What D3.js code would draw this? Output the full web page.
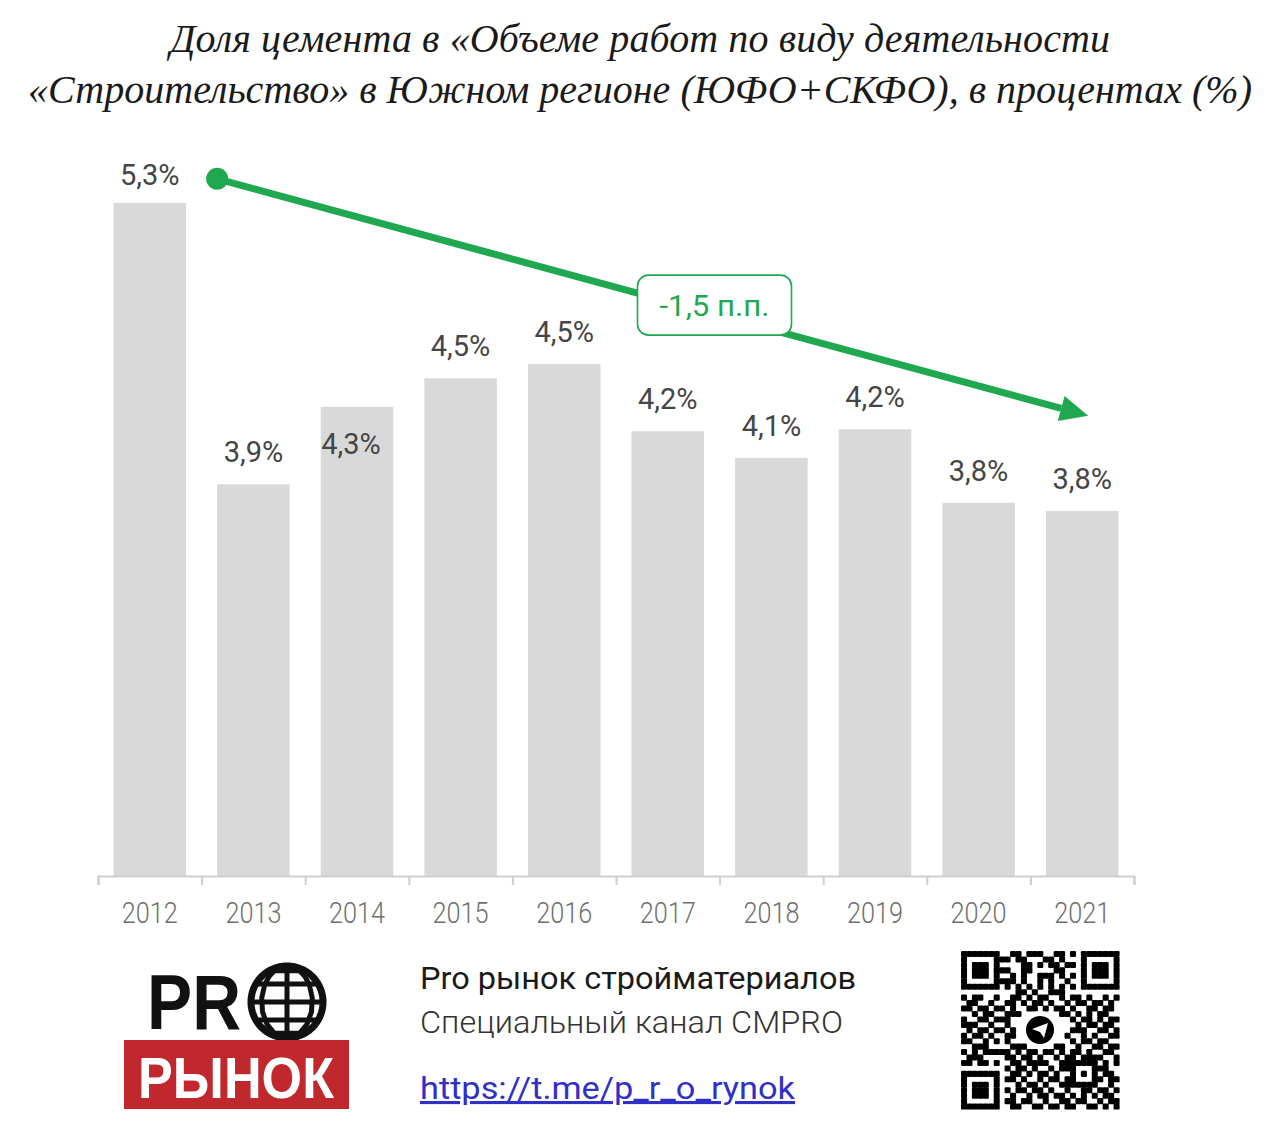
<!DOCTYPE html>
<html>
<head>
<meta charset="utf-8">
<script src="https://cdn.jsdelivr.net/npm/d3@7/dist/d3.min.js"></script>
<style>
  html, body { margin: 0; padding: 0; background: #fff; }
  svg { display: block; }
</style>
</head>
<body>
<svg id="chart" width="1280" height="1138"></svg>
<script>
// ---------- data ----------
const years = ["2012","2013","2014","2015","2016","2017","2018","2019","2020","2021"];
const shares = [5.30, 3.92, 4.30, 4.44, 4.51, 4.18, 4.05, 4.19, 3.83, 3.79];
const shareLabels = ["5,3%","3,9%","4,3%","4,5%","4,5%","4,2%","4,1%","4,2%","3,8%","3,8%"];
const titleLines = [
  "Доля цемента в «Объеме работ по виду деятельности",
  "«Строительство» в Южном регионе (ЮФО+СКФО),  в процентах (%)"
];
const changeLabel = "-1,5 п.п.";
const footerLines = ["Pro рынок стройматериалов", "Специальный канал CMPRO"];
const footerLink = "https://t.me/p_r_o_rynok";
const qrRows = [
  "11111110011011100110101111111",
  "10000011101100011010001000001",
  "10111010000110101101101011101",
  "10111011100110000110001011101",
  "10111010010100111010101011101",
  "10000011110100101001001000001",
  "11111110101010101010101111111",
  "00000000001101001110000000000",
  "10110010011010110010110100101",
  "01100100110101101001011011010",
  "11011011010011010110100110110",
  "00101100111000000011010101100",
  "10011011100000000000101101011",
  "11100100100000000000010110110",
  "01011011010000000000111001101",
  "10110100110000000001001010011",
  "11001010100000000000101101100",
  "00111000011100000110010011011",
  "10101111101011011010110100110",
  "01110000110110100101101111001",
  "11011010011011110011111110101",
  "00000000101101001011100011100",
  "11111110011010110100101010110",
  "10000010110100101101100011011",
  "10111010001011010011111110010",
  "10111010101101101001001101101",
  "10111010010010110110101010110",
  "10000010110110010011011001011",
  "11111110011001101101100110101"
];

// ---------- layout ----------
const GREEN = "#1fa84f";
const svg = d3.select("#chart");

const x = d3.scaleBand().domain(years).range([98, 1134]).paddingInner(0.3).paddingOuter(0.15);
const y = d3.scaleLinear().domain([2, 5.5]).range([876, 162]);
const data = years.map((yr, i) => ({ yr, v: shares[i], lab: shareLabels[i] }));

// title
const titleWidths = [940, 1224];
svg.append("g").selectAll("text").data(titleLines).join("text")
  .attr("x", 640).attr("y", (d, i) => 52 + i * 51)
  .attr("text-anchor", "middle")
  .attr("font-family", "'Liberation Serif', serif")
  .attr("font-style", "italic")
  .attr("font-size", 40)
  .attr("fill", "#1a1a1a")
  .text(d => d)
  .each(function (d, i) {
    const natural = this.getComputedTextLength();
    d3.select(this).attr("textLength", titleWidths[i])
      .attr("lengthAdjust", natural > titleWidths[i] ? "spacingAndGlyphs" : "spacing");
  });

// bars
svg.append("g").selectAll("rect").data(data).join("rect")
  .attr("x", d => x(d.yr)).attr("width", x.bandwidth())
  .attr("y", d => y(d.v)).attr("height", d => y(2) - y(d.v))
  .attr("fill", "#d9d9d9");

// x axis: baseline + boundary ticks
const xb = d3.scaleLinear().domain([0, years.length]).range(x.range());
const axisG = svg.append("g").attr("transform", `translate(0,${y(2)})`)
  .call(d3.axisBottom(xb).ticks(years.length).tickSize(9).tickFormat(""));
axisG.select(".domain").attr("stroke", "#cfcfcf").attr("stroke-width", 2);
axisG.selectAll(".tick line").attr("stroke", "#cfcfcf").attr("stroke-width", 2);

const labG = svg.append("g").attr("transform", `translate(0,${y(2)})`)
  .call(d3.axisBottom(x).tickSize(0).tickPadding(0));
labG.select(".domain").remove();
labG.selectAll(".tick text")
  .attr("y", 47).attr("dy", null)
  .attr("font-family", "Roboto, sans-serif")
  .attr("font-weight", 300)
  .attr("font-size", 30)
  .attr("fill", "#6f6f6f")
  .attr("textLength", 56).attr("lengthAdjust", "spacingAndGlyphs");

// value labels
const nudgeY = { "2012": 4, "2014": 69 };
const nudgeX = { "2014": -6 };
svg.append("g").selectAll("text").data(data).join("text")
  .attr("x", d => x(d.yr) + x.bandwidth() / 2 + (nudgeX[d.yr] || 0))
  .attr("y", d => y(d.v) - 22 + (nudgeY[d.yr] || 0))
  .attr("text-anchor", "middle")
  .attr("font-family", "Roboto, sans-serif")
  .attr("font-size", 29)
  .attr("fill", "#454545")
  .text(d => d.lab);

// trend arrow
const x0 = x(years[0]) + x.step(), y0 = y(shares[0]) - 24;
const x1 = x(years[years.length - 1]) + x.bandwidth() / 2 + 6, y1 = y(shares[shares.length - 1]) - 95;
const ang = Math.atan2(y1 - y0, x1 - x0);
const headLen = 28, headW = 13;
const bx = x1 - headLen * Math.cos(ang), by = y1 - headLen * Math.sin(ang);
const trend = svg.append("g");
trend.append("line").attr("x1", x0).attr("y1", y0).attr("x2", bx).attr("y2", by)
  .attr("stroke", GREEN).attr("stroke-width", 7);
trend.append("circle").attr("cx", x0).attr("cy", y0).attr("r", 11).attr("fill", GREEN);
trend.append("path")
  .attr("d", d3.line()([
    [x1, y1],
    [bx + headW * Math.sin(ang), by - headW * Math.cos(ang)],
    [bx - headW * Math.sin(ang), by + headW * Math.cos(ang)]
  ]) + "Z")
  .attr("fill", GREEN);

// callout
const t = 0.571;
const cx = x0 + (x1 - x0) * t, cy = y0 + (y1 - y0) * t - 9;
trend.append("rect").attr("x", cx - 77).attr("y", cy - 30).attr("width", 154).attr("height", 60)
  .attr("rx", 11).attr("fill", "#fff").attr("stroke", GREEN).attr("stroke-width", 1.6);
trend.append("text").attr("x", cx).attr("y", cy + 11).attr("text-anchor", "middle")
  .attr("font-family", "Roboto, sans-serif").attr("font-size", 30)
  .attr("fill", GREEN).attr("textLength", 110).attr("lengthAdjust", "spacingAndGlyphs")
  .text(changeLabel);

// ---------- footer: logo ----------
const logo = svg.append("g");
logo.append("text").attr("x", 147).attr("y", 1029)
  .attr("font-family", "'Liberation Sans', Arial, sans-serif").attr("font-weight", 700).attr("font-size", 77)
  .attr("fill", "#111").attr("textLength", 94).attr("lengthAdjust", "spacingAndGlyphs")
  .text("PR");
const proj = d3.geoOrthographic().scale(36).translate([287, 1002]).rotate([0, 0]).clipAngle(90);
const gpath = d3.geoPath(proj);
logo.append("path").datum(d3.geoGraticule().step([45, 30]).extent([[-180, -61], [180, 61]])())
  .attr("d", gpath).attr("fill", "none").attr("stroke", "#111").attr("stroke-width", 5);
logo.append("path").datum({ type: "Sphere" }).attr("d", gpath)
  .attr("fill", "none").attr("stroke", "#111").attr("stroke-width", 7);
logo.append("rect").attr("x", 124).attr("y", 1040).attr("width", 225).attr("height", 69).attr("fill", "#c0282d");
logo.append("text").attr("x", 236).attr("y", 1098).attr("text-anchor", "middle")
  .attr("font-family", "'Liberation Sans', Arial, sans-serif").attr("font-weight", 700).attr("font-size", 57)
  .attr("fill", "#fff").attr("textLength", 196).attr("lengthAdjust", "spacingAndGlyphs")
  .text("РЫНОК");

// footer text
svg.append("text").attr("x", 420).attr("y", 989)
  .attr("font-family", "Roboto, sans-serif").attr("font-size", 31).attr("fill", "#1a1a1a")
  .attr("textLength", 436).attr("lengthAdjust", "spacingAndGlyphs")
  .text(footerLines[0]);
svg.append("text").attr("x", 420).attr("y", 1033)
  .attr("font-family", "Roboto, sans-serif").attr("font-weight", 300).attr("font-size", 31).attr("fill", "#333")
  .attr("textLength", 423).attr("lengthAdjust", "spacingAndGlyphs")
  .text(footerLines[1]);
svg.append("text").attr("x", 420).attr("y", 1099)
  .attr("font-family", "Roboto, sans-serif").attr("font-size", 31).attr("fill", "#3030c8")
  .attr("text-decoration", "underline")
  .attr("textLength", 375).attr("lengthAdjust", "spacingAndGlyphs")
  .text(footerLink);

// QR code
const n = qrRows.length, qrX = 961, qrY = 951, qrS = 158;
const qs = d3.scaleBand().domain(d3.range(n)).range([0, qrS]);
const cells = [];
qrRows.forEach((row, r) => row.split("").forEach((c, k) => { if (c === "1") cells.push([r, k]); }));
const qr = svg.append("g").attr("transform", `translate(${qrX},${qrY})`);
qr.selectAll("rect").data(cells).join("rect")
  .attr("x", d => qs(d[1])).attr("y", d => qs(d[0]))
  .attr("width", qs.bandwidth() + 0.6).attr("height", qs.bandwidth() + 0.6)
  .attr("rx", 1.2).attr("fill", "#000");
const lc = qs(14) + qs.bandwidth() / 2;
qr.append("circle").attr("cx", lc).attr("cy", lc).attr("r", 19).attr("fill", "#fff");
qr.append("circle").attr("cx", lc).attr("cy", lc).attr("r", 14).attr("fill", "#000");
qr.append("path").attr("d", d3.line()([[lc - 8, lc - 1], [lc + 8, lc - 7], [lc + 4, lc + 8], [lc, lc + 2]]) + "Z")
  .attr("fill", "#fff");
</script>
</body>
</html>
